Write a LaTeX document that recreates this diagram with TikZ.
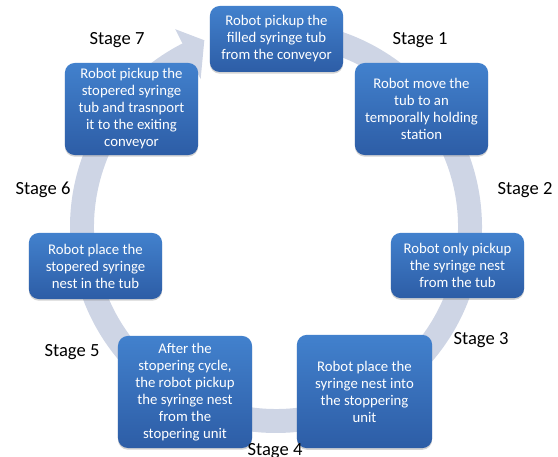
\documentclass[tikz,border=0pt]{standalone}
\usepackage{fontspec}
\setmainfont{Carlito}
\usepackage{tikz}
\usetikzlibrary{shadows}
\definecolor{RingBand}{RGB}{206,213,229}
\definecolor{BoxTop}{RGB}{66,129,205}
\definecolor{BoxBottom}{RGB}{45,93,166}

\begin{document}
\begin{tikzpicture}[
  x=0.025cm, y=0.025cm,
  stagebox/.style={rounded corners=7pt, align=center, text=white,
                   top color=BoxTop, bottom color=BoxBottom,
                   minimum width=3.33cm, minimum height=#1, inner sep=2pt,
                   font=\fontsize{10.5}{12.1}\selectfont,
                   drop shadow={opacity=0.35, shadow xshift=0pt, shadow yshift=-1.2pt}},
  stagebox/.default=1.65cm,
  stagelbl/.style={anchor=base, font=\fontsize{13.2}{15}\selectfont},
  ring/.style={fill=RingBand},
]
  \useasboundingbox (0,0) rectangle (558,457);

  \begin{scope}[shift={(276,230)}]
    \fill[ring] (95:206) arc[start angle=95, end angle=-243, radius=206]
      -- (-243:222) -- (-249:200) -- (-243:166) -- (-243:182)
      arc[start angle=-243, end angle=95, radius=182] -- cycle;
  \end{scope}

  \node[stagebox] (pick) at (276.5,418) {Robot pickup the\\filled syringe tub\\from the conveyor};
  \node[stagebox=2.3cm] (hold) at (421.5,348) {Robot move the\\tub to an\\temporally holding\\station};
  \node[stagebox=1.63cm] (nest) at (457.5,191.5) {Robot only pickup\\the syringe nest\\from the tub};
  \node[stagebox=2.83cm, minimum width=3.38cm] (stop) at (364.5,65.5) {Robot place the\\syringe nest into\\the stoppering\\unit};
  \node[stagebox=2.8cm, minimum width=3.35cm] (cycle) at (185,65) {After the\\stopering cycle,\\the robot pickup\\the syringe nest\\from the\\stopering unit};
  \node[stagebox] (place) at (95.5,191) {Robot place the\\stopered syringe\\nest in the tub};
  \node[stagebox=2.3cm] (exit) at (131.5,348) {Robot pickup the\\stopered syringe\\tub and trasnport\\it to the exiting\\conveyor};

  \node[stagelbl] (s1) at (420,412) {Stage 1};
  \node[stagelbl] (s2) at (525,262) {Stage 2};
  \node[stagelbl] (s3) at (481,112) {Stage 3};
  \node[stagelbl] (s4) at (275,1) {Stage 4};
  \node[stagelbl] (s5) at (72,100) {Stage 5};
  \node[stagelbl] (s6) at (43,262) {Stage 6};
  \node[stagelbl] (s7) at (117,412) {Stage 7};
\end{tikzpicture}
\end{document}
